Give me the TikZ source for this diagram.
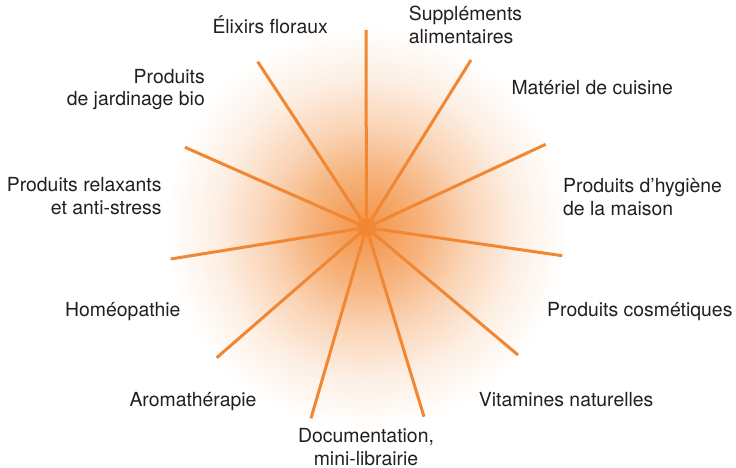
\documentclass[tikz,border=0pt]{standalone}
\usepackage{fontspec}
\setmainfont{TeX Gyre Heros}
\definecolor{ray}{RGB}{241,135,50}
\definecolor{txt}{RGB}{35,31,32}
\colorlet{g0}{ray!90!white}
\colorlet{g1}{ray!62!white}
\colorlet{g2}{ray!36!white}
\colorlet{g3}{ray!13!white}
\pgfdeclareradialshading{glow}{\pgfpoint{0bp}{0bp}}{color(0bp)=(g0); color(7bp)=(g1); color(12bp)=(g2); color(18bp)=(g3); color(24bp)=(white); color(50bp)=(white)}
\begin{document}
\begin{tikzpicture}[x=1pt,y=-1pt,
  lbl/.style={font=\fontsize{19.4}{22.7}\selectfont, text=txt, inner sep=0pt},
  rayline/.style={draw=ray, line width=3pt},
  hub/.style={circle, fill=ray, minimum size=20pt, inner sep=0pt}]
\useasboundingbox (0,0) rectangle (736,468);
\fill[white] (0,0) rectangle (736,468);
\shade[shading=glow] (366.5,227.5) circle[radius=210pt];
\node[hub] (c) at (366.5,227.5) {};
\coordinate (e1) at (366,30);
\coordinate (e2) at (471,60);
\coordinate (e3) at (545.7,144.3);
\coordinate (e4) at (562.3,255.7);
\coordinate (e5) at (518,355);
\coordinate (e6) at (424,416.7);
\coordinate (e7) at (311,418.3);
\coordinate (e8) at (216.7,357.7);
\coordinate (e9) at (170.7,259);
\coordinate (e10) at (185,147.3);
\coordinate (e11) at (257.7,61.7);
\foreach \i in {1,...,11} \draw[rayline] (c) -- (e\i);
\node[lbl, anchor=base west] (l1) at (212.3,33.3) {Élixirs floraux};
\node[lbl, anchor=base west, align=left] (l2) at (408.7,43.3) {Suppléments\\alimentaires};
\node[lbl, anchor=base west] (l3) at (511.3,94.3) {Matériel de cuisine};
\node[lbl, anchor=base west, align=left] (l4) at (563,215) {Produits d’hygiène\\de la maison};
\node[lbl, anchor=base west] (l5) at (547,316.7) {Produits cosmétiques};
\node[lbl, anchor=base west] (l6) at (478.7,406) {Vitamines naturelles};
\node[lbl, anchor=base, align=center] (l7) at (366,465) {Documentation,\\mini-librairie};
\node[lbl, anchor=base west] (l8) at (129.3,406) {Aromathérapie};
\node[lbl, anchor=base west] (l9) at (65,316.7) {Homéopathie};
\node[lbl, anchor=base east, align=right] (l10) at (161.7,214.3) {Produits relaxants\\et anti-stress};
\node[lbl, anchor=base east, align=right] (l11) at (205,106) {Produits\\de jardinage bio};
\end{tikzpicture}
\end{document}
